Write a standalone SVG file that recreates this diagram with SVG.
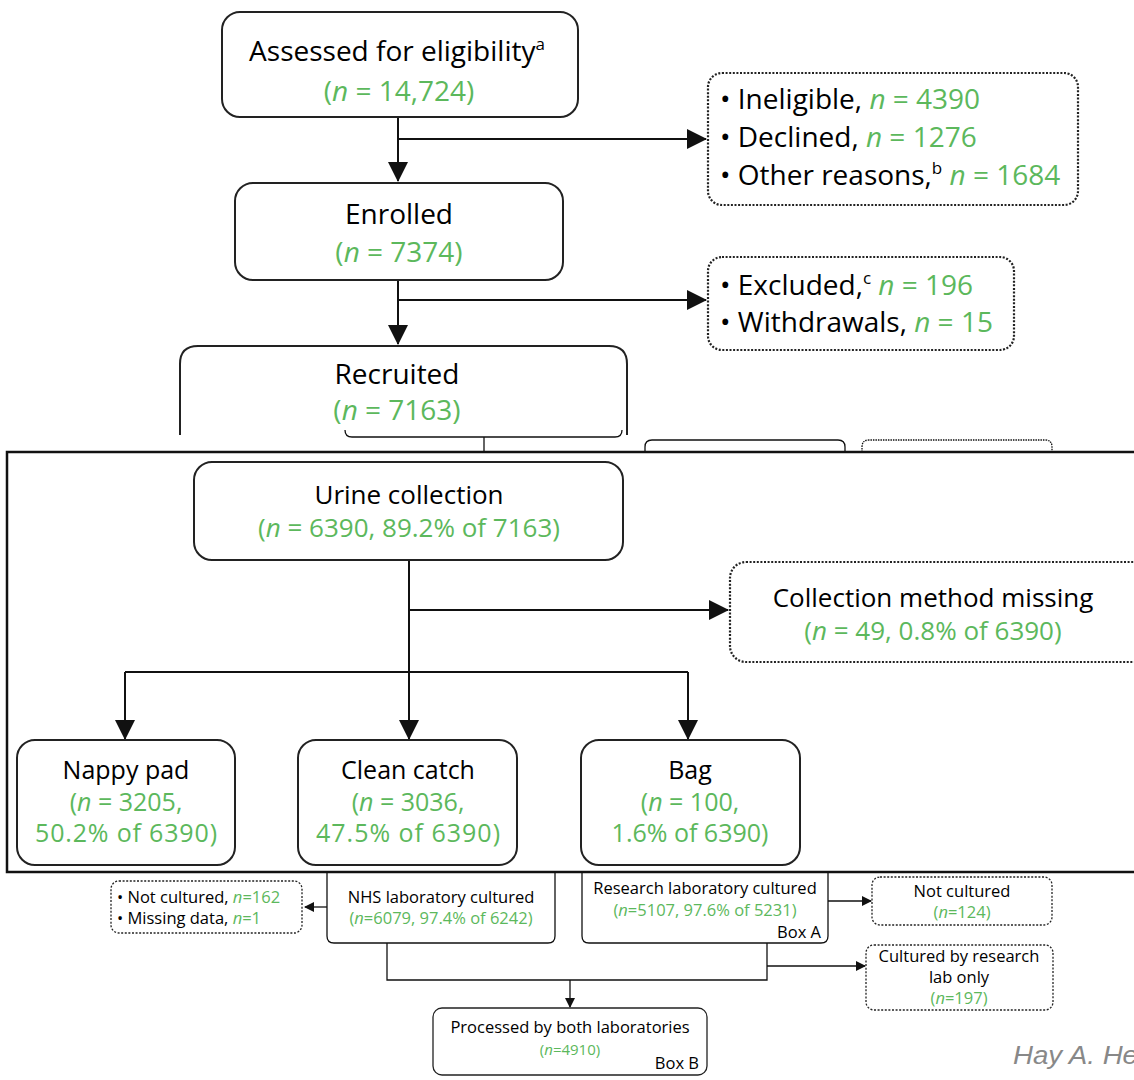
<svg xmlns="http://www.w3.org/2000/svg" width="1134" height="1080" viewBox="0 0 1134 1080">
<defs>
<marker id="ah" markerWidth="10" markerHeight="10" refX="9" refY="5" orient="auto" markerUnits="userSpaceOnUse" viewBox="0 0 10 10"><path d="M0,0 L10,5 L0,10 z" fill="#111"/></marker>
<marker id="ahL" markerWidth="20" markerHeight="20" refX="19" refY="10" orient="auto" markerUnits="userSpaceOnUse" viewBox="0 0 20 20"><path d="M0,0 L20,10 L0,20 z" fill="#111"/></marker>
<style>
.box{fill:#fff;stroke:#222;stroke-width:2}
.dot{fill:#fff;stroke:#222;stroke-width:2.2;stroke-dasharray:2 1.6}
.ln{fill:none;stroke:#111;stroke-width:2}
.lnS{fill:none;stroke:#111;stroke-width:1.3}
.t{font-family:"Open Sans","Noto Sans",sans-serif;fill:#000}
.g{fill:#5cb85c}
.big{font-size:28px}
.mid{font-size:26px}
.mid3{font-size:25px}
.sm{font-size:16.5px}
.c{text-anchor:middle}
</style>
</defs>
<rect width="1134" height="1080" fill="#fff"/>

<g id="connectors-top">
<path class="ln" d="M398,117 V181" marker-end="url(#ahL)"/>
<path class="ln" d="M398,139 H706" marker-end="url(#ahL)"/>
<path class="ln" d="M398,280 V344" marker-end="url(#ahL)"/>
<path class="ln" d="M398,300 H706" marker-end="url(#ahL)"/>
<path class="lnS" d="M484,437 V452"/>
</g>

<g id="assessed">
<rect class="box" x="222" y="12" width="356" height="105" rx="18"/>
<text class="t big c" x="397" y="61">Assessed for eligibility<tspan font-size="17" dy="-11">a</tspan></text>
<text class="t big c g" x="399" y="101">(<tspan font-style="italic">n</tspan> = 14,724)</text>
</g>
<g id="excl1">
<rect class="dot" x="708" y="73" width="370" height="132" rx="14"/>
<text class="t big" x="720" y="109">• Ineligible, <tspan class="g"><tspan font-style="italic">n</tspan> = 4390</tspan></text>
<text class="t big" x="720" y="147">• Declined, <tspan class="g"><tspan font-style="italic">n</tspan> = 1276</tspan></text>
<text class="t big" x="720" y="185">• Other reasons,<tspan font-size="17" dy="-11">b</tspan><tspan class="g" dy="11"> <tspan font-style="italic">n</tspan> = 1684</tspan></text>
</g>
<g id="enrolled">
<rect class="box" x="235" y="183" width="328" height="97" rx="18"/>
<text class="t big c" x="399" y="224">Enrolled</text>
<text class="t big c g" x="399" y="262">(<tspan font-style="italic">n</tspan> = 7374)</text>
</g>
<g id="excl2">
<rect class="dot" x="708" y="257" width="306" height="93" rx="14"/>
<text class="t big" x="720" y="295">• Excluded,<tspan font-size="17" dy="-11">c</tspan><tspan class="g" dy="11"> <tspan font-style="italic">n</tspan> = 196</tspan></text>
<text class="t big" x="720" y="332">• Withdrawals, <tspan class="g"><tspan font-style="italic">n</tspan> = 15</tspan></text>
</g>
<g id="recruited">
<path class="box" d="M180,435 V364 Q180,346 198,346 H609 Q627,346 627,364 V435"/>
<text class="t big c" x="397" y="384">Recruited</text>
<text class="t big c g" x="397" y="420">(<tspan font-style="italic">n</tspan> = 7163)</text>
<path class="lnS" d="M345,430 Q345,437 352,437 H615 Q622,437 622,430"/>
</g>
<g id="partial-tops">
<path class="lnS" d="M645,452 V447 Q645,440 652,440 H838 Q845,440 845,447 V452"/>
<path class="lnS" d="M862,452 V447 Q862,440 869,440 H1045 Q1052,440 1052,447 V452" stroke-dasharray="1.5 1"/>
</g>

<g id="overlay">
<rect x="7" y="452" width="1140" height="420" fill="#fff" stroke="#111" stroke-width="2.5"/>
</g>

<g id="connectors-mid">
<path class="ln" d="M409,560 V739" marker-end="url(#ahL)"/>
<path class="ln" d="M409,610 H728" marker-end="url(#ahL)"/>
<path class="ln" d="M125,672 H688"/>
<path class="ln" d="M125,672 V739" marker-end="url(#ahL)"/>
<path class="ln" d="M688,672 V739" marker-end="url(#ahL)"/>
</g>

<g id="urine">
<rect class="box" x="194" y="462" width="429" height="98" rx="18"/>
<text class="t mid c" x="409" y="504">Urine collection</text>
<text class="t mid c g" x="409" y="537">(<tspan font-style="italic">n</tspan> = 6390, 89.2% of 7163)</text>
</g>
<g id="missing">
<rect class="dot" x="730" y="562" width="420" height="100" rx="16"/>
<text class="t mid c" x="933" y="607">Collection method missing</text>
<text class="t mid c g" x="933" y="640">(<tspan font-style="italic">n</tspan> = 49, 0.8% of 6390)</text>
</g>
<g id="nappy">
<rect class="box" x="17" y="740" width="218" height="125" rx="18"/>
<text class="t mid3 c" x="126" y="779">Nappy pad</text>
<text class="t mid3 c g" x="126" y="811">(<tspan font-style="italic">n</tspan> = 3205,</text>
<text class="t mid3 c g" x="126" y="842" textLength="182">50.2% of 6390)</text>
</g>
<g id="clean">
<rect class="box" x="298" y="740" width="219" height="125" rx="18"/>
<text class="t mid3 c" x="408" y="779">Clean catch</text>
<text class="t mid3 c g" x="408" y="811">(<tspan font-style="italic">n</tspan> = 3036,</text>
<text class="t mid3 c g" x="408" y="842" textLength="184">47.5% of 6390)</text>
</g>
<g id="bag">
<rect class="box" x="581" y="740" width="219" height="125" rx="18"/>
<text class="t mid3 c" x="690" y="779">Bag</text>
<text class="t mid3 c g" x="690" y="811">(<tspan font-style="italic">n</tspan> = 100,</text>
<text class="t mid3 c g" x="690" y="842">1.6% of 6390)</text>
</g>

<g id="connectors-bottom">
<path class="lnS" d="M327,907 H305" marker-end="url(#ah)"/>
<path class="lnS" d="M828,901 H871" marker-end="url(#ah)"/>
<path class="lnS" d="M387,943 V980 H767 V943"/>
<path class="lnS" d="M570,980 V1007" marker-end="url(#ah)"/>
<path class="lnS" d="M767,966 H865" marker-end="url(#ah)"/>
</g>

<g id="notcult1">
<rect class="dot" x="111" y="881" width="191" height="52" rx="8" style="stroke-width:1.3"/>
<text class="t sm" x="117" y="903">• Not cultured, <tspan class="g"><tspan font-style="italic">n</tspan>=162</tspan></text>
<text class="t sm" x="117" y="924">• Missing data, <tspan class="g"><tspan font-style="italic">n</tspan>=1</tspan></text>
</g>
<g id="nhs">
<path class="lnS" d="M327,873 V936 Q327,943 334,943 H548 Q555,943 555,936 V873" fill="#fff"/>
<text class="t sm c" x="441" y="903">NHS laboratory cultured</text>
<text class="t sm c g" x="441" y="924">(<tspan font-style="italic">n</tspan>=6079, 97.4% of 6242)</text>
</g>
<g id="research">
<path class="lnS" d="M582,873 V936 Q582,943 589,943 H821 Q828,943 828,936 V873" fill="#fff"/>
<text class="t sm c" x="705" y="894">Research laboratory cultured</text>
<text class="t sm c g" x="705" y="916">(<tspan font-style="italic">n</tspan>=5107, 97.6% of 5231)</text>
<text class="t sm" x="821" y="938" text-anchor="end">Box A</text>
</g>
<g id="notcult2">
<rect class="dot" x="872" y="877" width="180" height="48" rx="8" style="stroke-width:1.3"/>
<text class="t sm c" x="962" y="897">Not cultured</text>
<text class="t sm c g" x="962" y="918">(<tspan font-style="italic">n</tspan>=124)</text>
</g>
<g id="researchonly">
<rect class="dot" x="866" y="945" width="187" height="65" rx="8" style="stroke-width:1.3"/>
<text class="t sm c" x="959" y="962">Cultured by research</text>
<text class="t sm c" x="959" y="983">lab only</text>
<text class="t sm c g" x="959" y="1004">(<tspan font-style="italic">n</tspan>=197)</text>
</g>
<g id="processed">
<rect x="433" y="1008" width="274" height="67" rx="9" fill="#fff" stroke="#222" stroke-width="1.3"/>
<text class="t sm c" x="570" y="1033">Processed by both laboratories</text>
<text class="t c g" x="570" y="1055" font-size="15">(<tspan font-style="italic">n</tspan>=4910)</text>
<text class="t sm" x="699" y="1069" text-anchor="end">Box B</text>
</g>
<text x="1013" y="1064" font-size="25" font-style="italic" style="fill:#888;font-family:'Liberation Sans Narrow','Liberation Sans',sans-serif" textLength="125" lengthAdjust="spacingAndGlyphs">Hay A.  He</text>
</svg>
